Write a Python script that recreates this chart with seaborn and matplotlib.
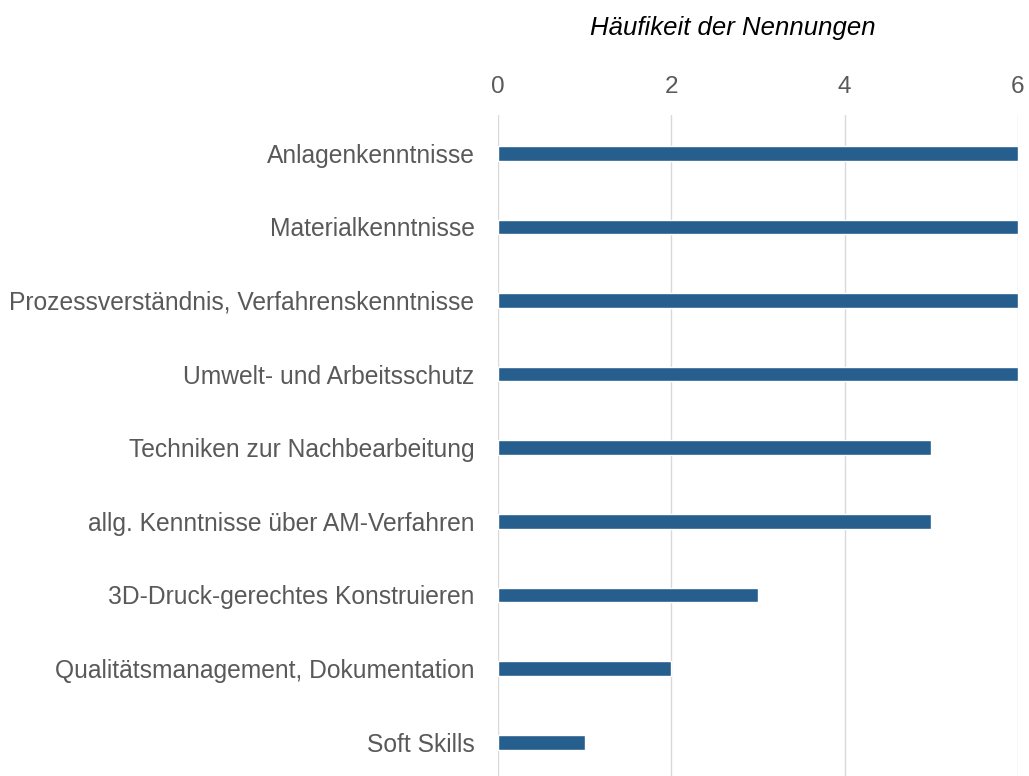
import matplotlib
matplotlib.use("Agg")
import matplotlib.pyplot as plt
import seaborn as sns

categories = [
    "Anlagenkenntnisse",
    "Materialkenntnisse",
    "Prozessverständnis, Verfahrenskenntnisse",
    "Umwelt- und Arbeitsschutz",
    "Techniken zur Nachbearbeitung",
    "allg. Kenntnisse über AM-Verfahren",
    "3D-Druck-gerechtes Konstruieren",
    "Qualitätsmanagement, Dokumentation",
    "Soft Skills",
]
counts = [6, 6, 6, 6, 5, 5, 3, 2, 1]
xticks = [0, 2, 4, 6]

BAR_COLOR = "#265e8e"
TEXT_COLOR = "#595959"

sns.set_style("white")
plt.rcParams["font.family"] = ["Liberation Sans", "DejaVu Sans"]

fig = plt.figure(figsize=(10.29, 7.76), dpi=100)
ax = fig.add_axes([498 / 1029, 0, 520 / 1029, 1 - 115 / 776])

sns.barplot(x=counts, y=categories, orient="h", color=BAR_COLOR,
            width=0.2, saturation=1, ax=ax)

ax.set_xlim(0, 6)
ax.set_ylim(8.46, -0.52)
ax.set_xticks(xticks)
ax.xaxis.tick_top()
ax.tick_params(axis="x", length=0, pad=12, labelsize=17.5, labelcolor=TEXT_COLOR)
ax.tick_params(axis="y", length=0, pad=17, labelsize=17.7, labelcolor=TEXT_COLOR)
ax.grid(axis="x", color="#d9d9d9", linewidth=1)
ax.set_axisbelow(True)
for s in ax.spines.values():
    s.set_visible(False)
ax.set_xlabel("")
ax.set_ylabel("")

fig.text(733 / 1029, 1 - 28 / 776, "Häufikeit der Nennungen", ha="center",
         va="center", fontsize=18.5, fontstyle="italic", color="black")

fig.savefig("out.png", dpi=100)
